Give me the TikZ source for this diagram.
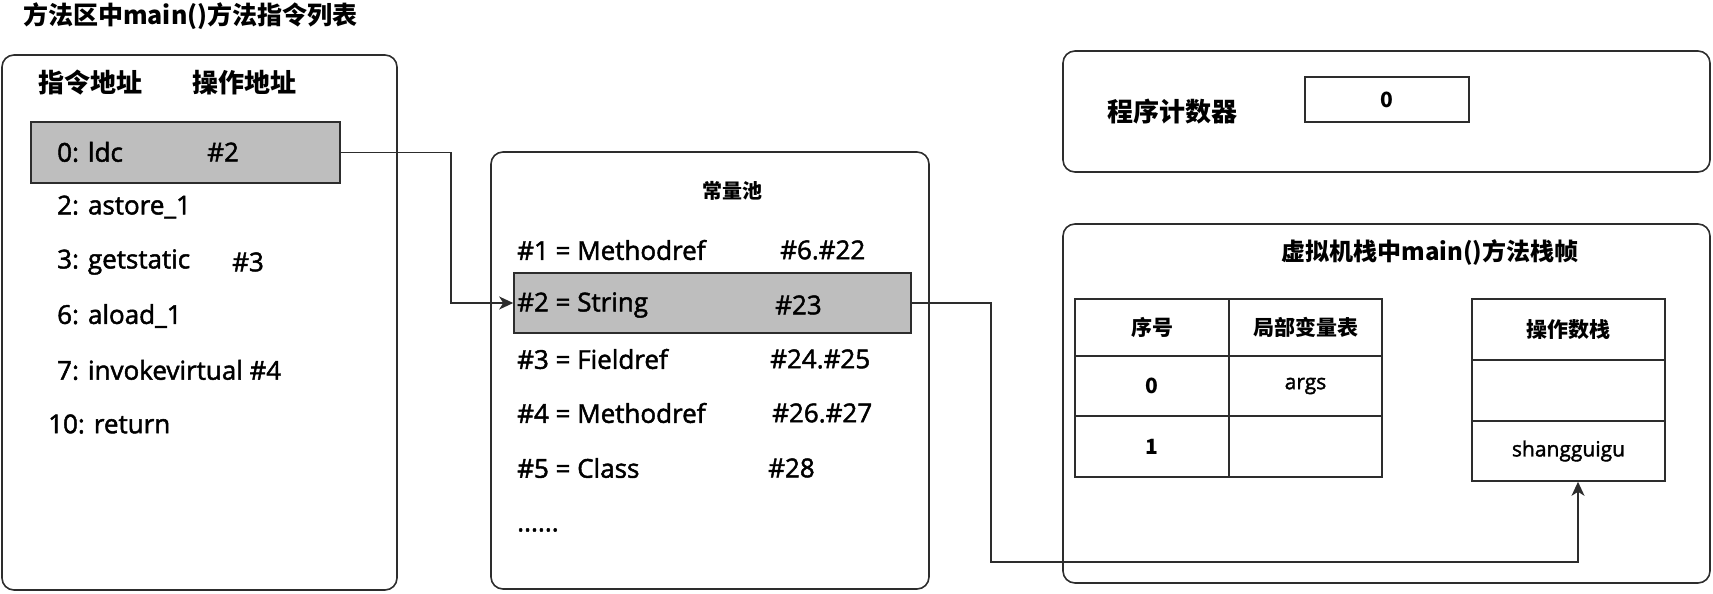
\documentclass[tikz,border=0pt]{standalone}
\usepackage{fontspec}
\setmainfont{Noto Sans CJK SC}
\newfontfamily\latfont{Open Sans}[RawFeature={embolden=1.8}]
\usetikzlibrary{arrows.meta,calc}
\definecolor{ln}{RGB}{45,45,45}
\definecolor{hl}{RGB}{190,190,190}
\tikzset{
  panel/.style={draw=ln, line width=1.6pt, rounded corners=12pt},
  hlrow/.style={draw=ln, line width=1.6pt, fill=hl, inner sep=0pt},
  cell/.style={draw=ln, line width=1.6pt, inner sep=0pt, font=\fontsize{21}{24}\selectfont\bfseries},
  cellr/.style={draw=ln, line width=1.6pt, inner sep=0pt, font=\latfont\fontsize{21}{24}\selectfont},
  body/.style={anchor=west, inner sep=0pt, text=black, font=\latfont\fontsize{26}{30}\selectfont},
  head/.style={anchor=west, inner sep=0pt, text=black, font=\fontsize{26}{30}\selectfont\bfseries},
  ttl/.style={inner sep=0pt, text=black, font=\fontsize{24}{28}\selectfont\bfseries},
  conn/.style={draw=ln, line width=1.5pt, -{Stealth[length=14pt,width=13pt,inset=4pt]}},
}
\begin{document}
\begin{tikzpicture}[x=1pt,y=-1pt]
\useasboundingbox (0,0) rectangle (1713,594);
% titles
\node[ttl, anchor=west, font=\fontsize{25}{28}\selectfont\bfseries] (t1) at (23,16) {方法区中main()方法指令列表};
% left panel
\draw[panel] (2,55) rectangle (397,590);
\node[head] (h1) at (38,83) {指令地址};
\node[head] (h2) at (192,83) {操作地址};
\node[hlrow, minimum width=309pt, minimum height=61pt] (row0) at (185.5,152.5) {};
\node[body] (i0) at (57,152) {0: ldc};
\node[body] (i0b) at (207,152) {\#2};
\node[body] (i2) at (57,207) {2: astore\_1};
\node[body] (i3) at (57,262) {3: getstatic};
\node[body] (i3b) at (232,262) {\#3};
\node[body] (i6) at (57,316) {6: aload\_1};
\node[body] (i7) at (57,370) {7: invokevirtual \#4};
\node[body] (i10) at (48,424) {10: return};
% middle panel
\draw[panel] (491,152) rectangle (929,589);
\node[ttl, font=\fontsize{20}{24}\selectfont\bfseries] (cp) at (732,191) {常量池};
\node[hlrow, minimum width=397pt, minimum height=60pt] (pool2) at (712.5,303) {};
\node[body] (p1) at (517,250) {\#1 = Methodref};
\node[body] (p1b) at (780,250) {\#6.\#22};
\node[body] (p2) at (517,305) {\#2 = String};
\node[body] (p2b) at (775,305) {\#23};
\node[body] (p3) at (517,359) {\#3 = Fieldref};
\node[body] (p3b) at (770,359) {\#24.\#25};
\node[body] (p4) at (517,413) {\#4 = Methodref};
\node[body] (p4b) at (772,413) {\#26.\#27};
\node[body] (p5) at (517,468) {\#5 = Class};
\node[body] (p5b) at (768,468) {\#28};
\node[body] (p6) at (517,530) {......};
% right top panel
\draw[panel] (1063,51) rectangle (1710,172);
\node[head] (pc) at (1107,112) {程序计数器};
\node[cell, minimum width=164pt, minimum height=45pt] (pcv) at (1387,99.5) {0};
% right bottom panel
\draw[panel] (1063,224) rectangle (1710,583);
\node[ttl] (vt) at (1430,252) {虚拟机栈中main()方法栈帧};
% local variable table
\node[cell, minimum width=154pt, minimum height=57pt] (l11) at (1152,327.5) {序号};
\node[cell, minimum width=153pt, minimum height=57pt] (l12) at (1305.5,327.5) {局部变量表};
\node[cell, minimum width=154pt, minimum height=60pt] (l21) at (1152,386) {0};
\node[cellr, minimum width=153pt, minimum height=60pt] (l22) at (1305.5,386) {args};
\node[cell, minimum width=154pt, minimum height=61pt] (l31) at (1152,446.5) {1};
\node[cellr, minimum width=153pt, minimum height=61pt] (l32) at (1305.5,446.5) {};
% operand stack
\node[cell, minimum width=193pt, minimum height=61pt] (s1) at (1568.5,329.5) {操作数栈};
\node[cellr, minimum width=193pt, minimum height=61pt] (s2) at (1568.5,390.5) {};
\node[cellr, minimum width=193pt, minimum height=60pt] (s3) at (1568.5,451) {shangguigu};
% connectors
\coordinate (c1) at (451,0);
\coordinate (c2) at (991,0);
\coordinate (c3) at (1578,562);
\draw[conn] (row0.east) -- (row0.east -| c1) |- (pool2.west);
\draw[conn] (pool2.east) -- (pool2.east -| c2) |- (c3) -- (c3 |- s3.south);
\end{tikzpicture}
\end{document}
